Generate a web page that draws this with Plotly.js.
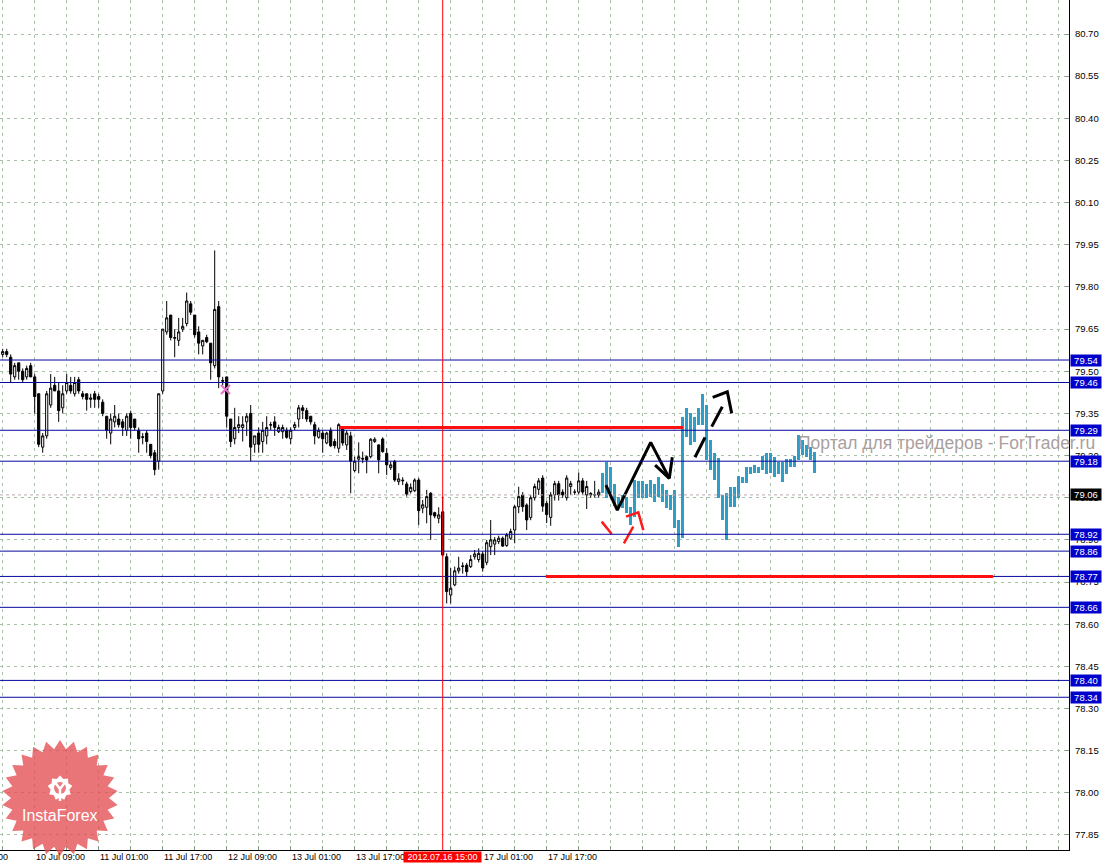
<!DOCTYPE html>
<html><head><meta charset="utf-8">
<script src="https://cdn.plot.ly/plotly-3.0.1.min.js"></script>
<style>html,body{margin:0;padding:0;background:#fff;}#chart{width:1111px;height:863px;}</style>
</head><body><div id="chart"></div>
<script>
// ---------- DATA (H1 candles, bar index 0 = 10 Jul 01:00) ----------
const candleOpen = [
79.56,79.57,79.55,79.48,79.53,79.50,79.48,79.52,79.48,79.42,
79.23,79.27,79.38,79.45,79.43,79.37,79.43,79.45,79.42,79.47,
79.42,79.42,79.40,79.42,79.41,79.39,79.34,79.28,79.32,79.33,
79.32,79.29,79.35,79.33,79.29,79.267,79.28,79.24,79.21,79.18,
79.43,79.64,79.70,79.617,79.61,79.65,79.67,79.74,79.70,79.64,
79.59,79.62,79.60,79.52,79.73,79.467,79.48,79.33,79.26,79.30,
79.30,79.32,79.35,79.24,79.28,79.25,79.27,79.308,79.32,79.285,
79.285,79.29,79.26,79.30,79.33,79.37,79.36,79.34,79.31,79.265,
79.28,79.245,79.29,79.25,79.226,79.30,79.238,79.27,79.147,79.187,
79.19,79.196,79.196,79.25,79.238,79.259,79.208,79.157,79.179,79.107,
79.11,79.099,79.072,79.075,79.113,79.013,79.016,79.066,78.997,78.977,
79.00,78.84,78.704,78.74,78.79,78.805,78.81,78.805,78.84,78.83,
78.85,78.82,78.876,78.885,78.894,78.906,78.88,78.906,78.935,79.018,
79.06,79.024,78.98,79.05,79.08,79.12,79.03,78.98,79.06,79.10,
79.07,79.05,79.09,79.07,79.07,79.11,79.06,79.06,79.06,79.06];
const candleHigh = [
79.58,79.58,79.56,79.53,79.53,79.51,79.52,79.53,79.49,79.42,
79.28,79.43,79.49,79.48,79.46,79.45,79.49,79.48,79.48,79.48,
79.43,79.42,79.42,79.43,79.42,79.40,79.34,79.35,79.38,79.35,
79.33,79.35,79.36,79.33,79.30,79.28,79.29,79.24,79.22,79.42,
79.65,79.75,79.70,79.65,79.69,79.69,79.78,79.75,79.70,79.66,
79.61,79.63,79.60,79.93,79.75,79.48,79.48,79.33,79.37,79.34,
79.34,79.35,79.38,79.27,79.30,79.32,79.34,79.32,79.34,79.31,
79.31,79.30,79.30,79.32,79.38,79.38,79.37,79.34,79.32,79.30,
79.29,79.285,79.30,79.26,79.315,79.30,79.29,79.285,79.196,79.247,
79.214,79.20,79.262,79.265,79.24,79.265,79.226,79.179,79.185,79.137,
79.123,79.107,79.101,79.119,79.12,79.042,79.078,79.07,79.00,79.016,
79.054,78.852,78.80,78.805,78.84,78.82,78.818,78.846,78.864,78.87,
78.86,78.90,78.971,78.91,78.915,78.912,78.925,78.94,79.024,79.089,
79.07,79.03,79.06,79.10,79.12,79.13,79.04,79.07,79.11,79.11,
79.08,79.13,79.11,79.08,79.14,79.12,79.11,79.07,79.11,79.08];
const candleLow = [
79.55,79.55,79.46,79.47,79.47,79.46,79.47,79.48,79.35,79.23,
79.21,79.26,79.37,79.43,79.32,79.35,79.42,79.42,79.41,79.42,
79.40,79.36,79.37,79.37,79.37,79.34,79.26,79.24,79.30,79.30,
79.27,79.27,79.26,79.29,79.21,79.24,79.21,79.19,79.13,79.15,
79.42,79.63,79.61,79.55,79.59,79.64,79.66,79.70,79.62,79.56,
79.56,79.60,79.47,79.51,79.44,79.45,79.30,79.23,79.24,79.28,
79.25,79.27,79.18,79.21,79.21,79.21,79.24,79.29,79.27,79.28,
79.26,79.26,79.24,79.29,79.30,79.33,79.32,79.31,79.24,79.26,
79.21,79.24,79.23,79.225,79.21,79.235,79.22,79.066,79.14,79.137,
79.173,79.137,79.19,79.245,79.137,79.21,79.131,79.149,79.107,79.095,
79.095,79.054,79.065,79.07,78.953,78.995,78.959,78.90,78.977,78.959,
78.84,78.674,78.674,78.735,78.78,78.78,78.77,78.80,78.83,78.82,
78.787,78.81,78.846,78.846,78.885,78.875,78.875,78.90,78.888,78.995,
79.00,78.935,78.97,79.04,79.06,79.00,78.96,78.95,79.04,79.04,
79.05,79.04,79.06,79.06,79.06,79.06,79.01,79.05,79.05,79.05];
const candleClose = [
79.57,79.56,79.49,79.52,79.50,79.47,79.51,79.48,79.41,79.24,
79.27,79.42,79.44,79.43,79.36,79.42,79.46,79.43,79.46,79.43,
79.41,79.40,79.405,79.40,79.40,79.35,79.29,79.33,79.34,79.31,
79.30,79.34,79.30,79.30,79.26,79.265,79.25,79.20,79.15,79.42,
79.65,79.69,79.62,79.62,79.64,79.66,79.75,79.71,79.63,79.60,
79.61,79.605,79.53,79.72,79.48,79.465,79.34,79.25,79.30,79.31,
79.31,79.34,79.23,79.27,79.24,79.29,79.30,79.31,79.30,79.30,
79.30,79.265,79.29,79.31,79.37,79.36,79.33,79.32,79.27,79.29,
79.26,79.28,79.235,79.235,79.31,79.245,79.28,79.18,79.18,79.196,
79.188,79.184,79.258,79.258,79.185,79.214,79.167,79.167,79.113,79.117,
79.112,79.063,79.087,79.113,79.004,79.025,79.054,78.989,78.985,78.989,
78.846,78.716,78.728,78.79,78.80,78.807,78.787,78.83,78.85,78.852,
78.80,78.89,78.90,78.90,78.906,78.878,78.918,78.93,79.018,79.054,
79.018,78.971,79.05,79.09,79.11,79.02,78.99,79.06,79.10,79.06,
79.06,79.12,79.10,79.07,79.11,79.07,79.09,79.065,79.06,79.07];

// projection bars (indicator), starting right after the last candle
const projStart = 150;
const projHigh = [79.137,79.178,79.161,79.10,79.054,79.06,79.054,79.018,79.113,79.11,
79.11,79.099,79.113,79.099,79.125,79.099,79.078,79.06,79.078,78.971,
79.338,79.369,79.352,79.338,79.369,79.419,79.38,79.256,79.209,79.191,
79.06,79.067,79.089,79.089,79.127,79.125,79.159,79.159,79.167,79.159,
79.198,79.21,79.21,79.196,79.178,79.178,79.188,79.188,79.198,79.273,
79.256,79.238,79.232,79.214];
const projLow = [79.066,79.048,79.066,79.02,79.018,79.014,78.996,78.953,78.983,79.049,
79.049,79.049,79.054,79.036,79.054,79.036,79.014,79.006,78.942,78.876,
78.907,79.267,79.238,79.25,79.309,79.309,79.184,79.149,79.113,79.049,
78.971,78.90,79.018,79.018,79.049,79.102,79.102,79.135,79.138,79.138,
79.149,79.135,79.138,79.125,79.135,79.107,79.135,79.159,79.159,79.184,
79.202,79.196,79.184,79.138];

// horizontal levels
const levelPrices = [79.54,79.46,79.29,79.18,78.92,78.86,78.77,78.66,78.40,78.34];
const bidPrice = 79.06;
const redLevelPrice = [79.30, 78.77];
const redLevelFrom  = [84.3, 135.8];
const redLevelTo    = [170.1, 247.6];

// drawn arrows (bar index, price)
const blackArrowX = [150.8,153.65,162.0,166.65,null,163.1,166.65,167.4];
const blackArrowY = [79.095,79.006,79.247,79.119,null,79.166,79.119,79.194];
const blackDashX = [173.08,175.58,null,177.25,179.9,null,177.5,181.15,182.25];
const blackDashY = [79.194,79.265,null,79.303,79.374,null,79.407,79.427,79.350];
const redArrowX = [149.75,152.25,null,155.3,157.65,null,155.83,158.9,160.15];
const redArrowY = [78.965,78.921,null,78.888,78.947,null,78.983,78.998,78.935];
const markX = [55.7];
const markY = [79.435];

// axis labels
const yTickValues = [80.70,80.55,80.40,80.25,80.10,79.95,79.80,79.65,79.50,79.35,79.20,79.05,78.90,78.75,78.60,78.45,78.30,78.15,78.00,77.85];
const xLabelIndex = [8,24,40,56,72,88,120,136];
const xLabelText = ['10 Jul 09:00','11 Jul 01:00','11 Jul 17:00','12 Jul 09:00','13 Jul 01:00','13 Jul 17:00','17 Jul 01:00','17 Jul 17:00'];
const firstLabelTail = '09 Jul 17:00';
const cursorIndex = 110;
const cursorLabel = '2012.07.16 15:00';
const watermarkText = 'Портал для трейдеров - ForTrader.ru';
const logoText = 'InstaForex';

// ---------- BUILD ----------
const barIndex = candleOpen.map((_, i) => i);
const projIndex = projHigh.map((_, i) => projStart + i);
const projSpan = projHigh.map((h, i) => h - projLow[i]);

const PW = 1069, PH = 850;
const XR = [-0.675, 266.575], YR = [77.7966, 80.821];
const GRID = '#a9c1a9';

const traces = [
  {type:'candlestick', x:barIndex, open:candleOpen, high:candleHigh, low:candleLow, close:candleClose,
   increasing:{line:{color:'#000',width:1}, fillcolor:'#ffffff'},
   decreasing:{line:{color:'#000',width:1}, fillcolor:'#000000'},
   whiskerwidth:0, hoverinfo:'skip', showlegend:false},
  {type:'bar', x:projIndex, y:projSpan, base:projLow, width:0.8,
   marker:{color:'#2e9ec8', line:{width:0}}, hoverinfo:'skip', showlegend:false},
  {type:'scatter', mode:'lines', x:redArrowX, y:redArrowY, line:{color:'#ff1a1a', width:2.5}, hoverinfo:'skip', showlegend:false},
  {type:'scatter', mode:'lines', x:blackArrowX, y:blackArrowY, line:{color:'#000', width:3}, hoverinfo:'skip', showlegend:false},
  {type:'scatter', mode:'lines', x:blackDashX, y:blackDashY, line:{color:'#000', width:3}, hoverinfo:'skip', showlegend:false},
  {type:'scatter', mode:'markers', x:markX, y:markY, marker:{symbol:'x-thin', size:9, line:{color:'#e070c8', width:2}}, hoverinfo:'skip', showlegend:false}
];

const shapes = [];
levelPrices.forEach(p => shapes.push({type:'line', xref:'paper', x0:0, x1:1, yref:'y', y0:p, y1:p, line:{color:'#0808a0', width:1}}));
shapes.push({type:'line', xref:'paper', x0:0, x1:1, yref:'y', y0:bidPrice, y1:bidPrice, line:{color:'#b9a9b4', width:1, dash:'dot'}});
redLevelPrice.forEach((p,k) => shapes.push({type:'line', xref:'x', x0:redLevelFrom[k], x1:redLevelTo[k], yref:'y', y0:p, y1:p, line:{color:'#ff1010', width:3}}));
shapes.push({type:'line', xref:'x', x0:cursorIndex, x1:cursorIndex, yref:'paper', y0:0, y1:1, line:{color:'#ff0000', width:1}});

// logo: 26-point badge
function px2x(p){return p/PW;} function py2y(p){return 1 - p/PH;}
function starPath(cx, cy, R, r, n, rot){
  let d='';
  for(let k=0;k<2*n;k++){
    const a = rot + Math.PI*k/n; const rr = (k%2===0)?R:r;
    const X = px2x(cx + rr*Math.cos(a)), Y = py2y(cy + rr*Math.sin(a));
    d += (k===0?'M':'L') + X.toFixed(5) + ',' + Y.toFixed(5);
  }
  return d+'Z';
}
shapes.push({type:'path', xref:'paper', yref:'paper', path:starPath(60,798,58,49,26,-Math.PI/2), fillcolor:'rgba(228,78,82,0.78)', line:{width:0}, layer:'above'});
shapes.push({type:'path', xref:'paper', yref:'paper', path:starPath(60,788,12.5,9.5,9,-Math.PI/2), fillcolor:'#ffffff', line:{width:0}, layer:'above'});
shapes.push({type:'circle', xref:'paper', yref:'paper', x0:px2x(54), x1:px2x(66), y0:py2y(782), y1:py2y(794), fillcolor:'#e97c7f', line:{width:0}, layer:'above'});
shapes.push({type:'path', xref:'paper', yref:'paper',
  path:'M'+px2x(55.5)+','+py2y(783)+'L'+px2x(60)+','+py2y(789)+'L'+px2x(64.5)+','+py2y(783)+'M'+px2x(60)+','+py2y(789)+'L'+px2x(60)+','+py2y(801),
  line:{color:'#ffffff', width:2.5}, layer:'above'});

const annotations = [];
const F = 'Liberation Sans, Arial, sans-serif';
levelPrices.forEach(p => annotations.push({xref:'paper', x:1, xanchor:'left', xshift:1, yref:'y', y:p, yanchor:'middle',
  text:p.toFixed(2), showarrow:false, bgcolor:'#0000cc', width:30, borderpad:0, align:'center', font:{family:F, size:9.5, color:'#fff'}}));
annotations.push({xref:'paper', x:1, xanchor:'left', xshift:1, yref:'y', y:bidPrice, yanchor:'middle',
  text:bidPrice.toFixed(2), showarrow:false, bgcolor:'#000000', width:30, borderpad:0, align:'center', font:{family:F, size:9.5, color:'#fff'}});
xLabelIndex.forEach((ix,k) => annotations.push({xref:'x', x:ix, xanchor:'left', xshift:-1, yref:'paper', y:0, yanchor:'top', yshift:0,
  text:xLabelText[k], showarrow:false, font:{family:F, size:9, color:'#000'}}));
annotations.push({xref:'paper', x:10/PW, xanchor:'right', yref:'paper', y:0, yanchor:'top', yshift:0,
  text:firstLabelTail, showarrow:false, font:{family:F, size:9, color:'#000'}});
annotations.push({xref:'x', x:cursorIndex, xanchor:'center', yref:'paper', y:0, yanchor:'top', yshift:-1,
  text:cursorLabel, showarrow:false, bgcolor:'#ff0000', width:77, borderpad:0, font:{family:F, size:9, color:'#fff'}});
annotations.push({xref:'paper', x:796/PW, xanchor:'left', yref:'y', y:79.245, yanchor:'middle',
  text:watermarkText, showarrow:false, font:{family:F, size:17.5, color:'#aa9f9f'}});
annotations.push({xref:'paper', x:px2x(60), xanchor:'center', yref:'paper', y:py2y(815), yanchor:'middle',
  text:logoText, showarrow:false, font:{family:F, size:16, color:'#ffffff'}});

const gridIdx = [];
for(let g=-8; g<=264; g+=8) gridIdx.push(g);

const layout = {
  width:1111, height:863, margin:{l:0, r:42, t:0, b:13, pad:0},
  paper_bgcolor:'#ffffff', plot_bgcolor:'#ffffff', showlegend:false, boxgap:0.22, bargap:0,
  xaxis:{type:'linear', range:XR, fixedrange:true, rangeslider:{visible:false},
    tickmode:'array', tickvals:gridIdx, showticklabels:false, ticks:'inside', ticklen:4, tickcolor:'#8a9a8a',
    showgrid:true, gridcolor:GRID, griddash:'3px,4px', gridwidth:1, zeroline:false,
    showline:true, linecolor:'#000', linewidth:1},
  yaxis:{range:YR, side:'right', fixedrange:true, tickmode:'array', tickvals:yTickValues,
    ticktext:yTickValues.map(v => v.toFixed(2)),
    ticks:'inside', ticklen:4, tickcolor:'#8a9a8a', tickfont:{family:F, size:9.5, color:'#000'}, ticklabelstandoff:3,
    showgrid:true, gridcolor:GRID, griddash:'3px,4px', gridwidth:1, zeroline:false,
    showline:true, linecolor:'#000', linewidth:1},
  shapes:shapes, annotations:annotations
};
Plotly.newPlot('chart', traces, layout, {displayModeBar:false, staticPlot:true});
</script></body></html>
